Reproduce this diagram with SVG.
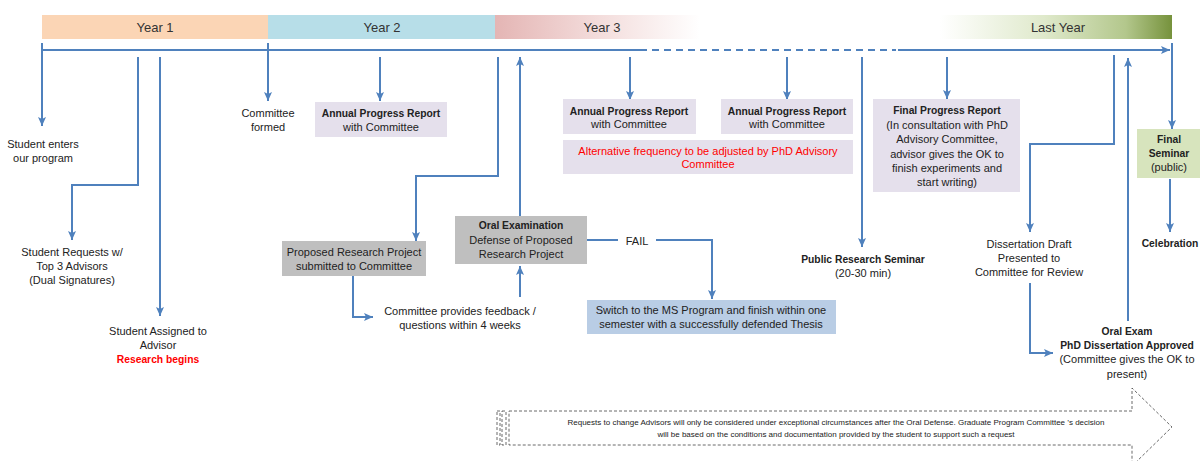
<svg xmlns="http://www.w3.org/2000/svg" width="1202" height="461" viewBox="0 0 1202 461">
<style>
text{font-family:"Liberation Sans",Arial,sans-serif;font-size:11px;fill:#222;text-anchor:middle}
.b{font-weight:bold;font-size:10.3px}
.hd{font-size:13px;fill:#333}
.red{fill:#ff0000}
.ln{fill:none;stroke:#4f81bd;stroke-width:2}
.ar{marker-end:url(#ah)}
.note{font-size:8px;fill:#222}
</style>
<defs>
<marker id="ah" markerUnits="userSpaceOnUse" markerWidth="10" markerHeight="10" viewBox="0 0 10 10" refX="9" refY="5" orient="auto">
<path d="M0,1 L9,5 L0,9 L2,5 Z" fill="#4f81bd"/>
</marker>
<linearGradient id="g3" x1="0" y1="0" x2="1" y2="0">
<stop offset="0" stop-color="#e4b5b4"/>
<stop offset="0.5" stop-color="#f3dcdb"/>
<stop offset="1" stop-color="#ffffff"/>
</linearGradient>
<linearGradient id="g4" x1="0" y1="0" x2="1" y2="0">
<stop offset="0" stop-color="#ffffff"/>
<stop offset="0.45" stop-color="#dfe9cb"/>
<stop offset="0.8" stop-color="#b3c78c"/>
<stop offset="1" stop-color="#76923c"/>
</linearGradient>
</defs>

<g id="header">
<rect x="42" y="15" width="226" height="24" fill="#fbd5b5"/>
<text class="hd" x="155" y="32">Year 1</text>
<rect x="268" y="15" width="227" height="24" fill="#b7dee8"/>
<text class="hd" x="382" y="32">Year 2</text>
<rect x="495" y="15" width="205" height="24" fill="url(#g3)"/>
<text class="hd" x="602" y="32">Year 3</text>
<rect x="940" y="15" width="232" height="24" fill="url(#g4)"/>
<text class="hd" x="1058" y="32">Last Year</text>
</g>

<g id="connectors">
<path class="ln" d="M42,50 H640"/>
<path class="ln" d="M640,50 H896" stroke-dasharray="7 5"/>
<path class="ln ar" d="M898,50 H1170"/>
<path class="ln ar" d="M42,43 V126"/>
<path class="ln ar" d="M138,57 V185 H72 V240"/>
<path class="ln ar" d="M160,57 V316"/>
<path class="ln ar" d="M268,43 V101"/>
<path class="ln ar" d="M380,57 V101"/>
<path class="ln ar" d="M498,57 V176 H416 V241"/>
<path class="ln ar" d="M353,276 V317 H373"/>
<path class="ln ar" d="M520,297 V266"/>
<path class="ln ar" d="M520,216 V57"/>
<path class="ln" d="M587,240 H618"/>
<path class="ln ar" d="M656,240 H712 V299"/>
<path class="ln ar" d="M630,57 V100"/>
<path class="ln ar" d="M787,57 V100"/>
<path class="ln ar" d="M862,57 V247"/>
<path class="ln ar" d="M947,57 V99"/>
<path class="ln ar" d="M1114,55 V144 H1030 V232"/>
<path class="ln ar" d="M1030,283 V353 H1053"/>
<path class="ln ar" d="M1128,321 V58"/>
<path class="ln ar" d="M1172,43 V129"/>
<path class="ln ar" d="M1170,179 V232"/>
</g>

<g id="n-enter"><text x="43" y="148">Student enters</text><text x="43" y="162">our program</text></g>
<g id="n-requests"><text x="72" y="256">Student Requests w/</text><text x="72" y="270">Top 3 Advisors</text><text x="72" y="284">(Dual Signatures)</text></g>
<g id="n-assigned"><text x="158" y="335">Student Assigned to</text><text x="158" y="349">Advisor</text><text class="b red" x="158" y="363">Research begins</text></g>
<g id="n-committee"><text x="268" y="117">Committee</text><text x="268" y="131">formed</text></g>
<g id="n-apr1"><rect x="315" y="102" width="132" height="35" fill="#e5e0ec"/><text class="b" x="381" y="117">Annual Progress Report</text><text x="381" y="131">with Committee</text></g>
<g id="n-proposed"><rect x="282" y="241" width="144" height="35" fill="#bfbfbf"/><text x="354" y="256">Proposed Research Project</text><text x="354" y="270">submitted to Committee</text></g>
<g id="n-feedback"><text x="460" y="315">Committee provides feedback /</text><text x="460" y="329">questions within 4 weeks</text></g>
<g id="n-oral"><rect x="455" y="216" width="132" height="48" fill="#bfbfbf"/><text class="b" x="521" y="229">Oral Examination</text><text x="521" y="244">Defense of Proposed</text><text x="521" y="258">Research Project</text></g>
<g id="n-fail"><text x="637" y="245">FAIL</text></g>
<g id="n-switch"><rect x="587" y="300" width="249" height="34" fill="#b9cde5"/><text x="711" y="314">Switch to the MS Program and finish within one</text><text x="711" y="328">semester with a successfully defended Thesis</text></g>
<g id="n-apr2"><rect x="563" y="99" width="133" height="35" fill="#e5e0ec"/><text class="b" x="629" y="115">Annual Progress Report</text><text x="629" y="128">with Committee</text></g>
<g id="n-apr3"><rect x="721" y="99" width="132" height="35" fill="#e5e0ec"/><text class="b" x="787" y="115">Annual Progress Report</text><text x="787" y="128">with Committee</text></g>
<g id="n-alt"><rect x="563" y="140" width="290" height="34" fill="#e5e0ec"/><text class="red" x="708" y="155">Alternative frequency to be adjusted by PhD Advisory</text><text class="red" x="708" y="168">Committee</text></g>
<g id="n-public"><text class="b" x="863" y="263">Public Research Seminar</text><text x="863" y="277">(20-30 min)</text></g>
<g id="n-final-report"><rect x="873" y="99" width="147" height="93" fill="#e5e0ec"/><text class="b" x="947" y="114">Final Progress Report</text><text x="947" y="128.5">(In consultation with PhD</text><text x="947" y="143">Advisory Committee,</text><text x="947" y="157.5">advisor gives the OK to</text><text x="947" y="172">finish experiments and</text><text x="947" y="186">start writing)</text></g>
<g id="n-draft"><text x="1029" y="248">Dissertation Draft</text><text x="1029" y="262">Presented to</text><text x="1029" y="276">Committee for Review</text></g>
<g id="n-oralexam"><text class="b" x="1127" y="335">Oral Exam</text><text class="b" x="1127" y="349">PhD Dissertation Approved</text><text x="1127" y="363">(Committee gives the OK to</text><text x="1127" y="378">present)</text></g>
<g id="n-seminar"><rect x="1137" y="129" width="63" height="49" fill="#d7e4bd"/><text class="b" x="1169" y="143">Final</text><text class="b" x="1169" y="157">Seminar</text><text x="1169" y="171">(public)</text></g>
<g id="n-celebration"><text class="b" x="1170" y="247">Celebration</text></g>
<g id="n-note">
<g fill="#fff" stroke="#444" stroke-width="0.8" stroke-dasharray="3 2">
<rect x="497" y="411" width="3" height="34"/>
<rect x="502" y="411" width="4" height="34"/>
<path d="M509,411 H1132 V388 L1172,427 L1132,466 V445 H509 Z"/>
</g>
<text class="note" x="836" y="425">Requests to change Advisors will only be considered under exceptional circumstances after the Oral Defense. Graduate Program Committee ’s decision</text>
<text class="note" x="836" y="437">will be based on the conditions and documentation provided by the student to support such a request</text>
</g>
</svg>
